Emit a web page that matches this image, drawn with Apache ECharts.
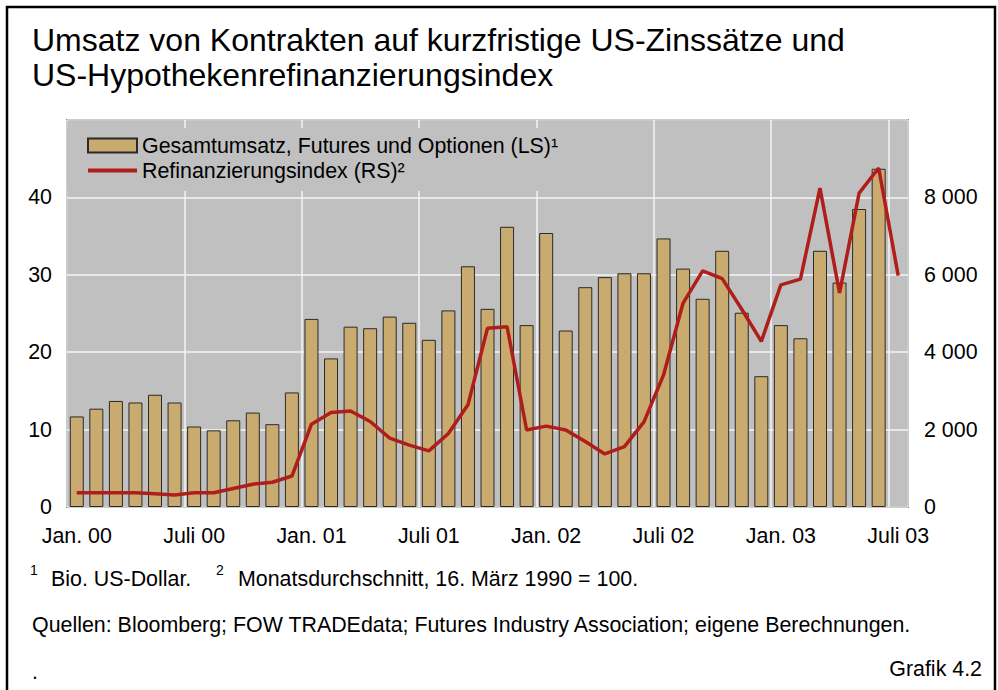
<!DOCTYPE html>
<html>
<head>
<meta charset="utf-8">
<script src="https://cdn.jsdelivr.net/npm/echarts@6/dist/echarts.min.js"></script>
<style>
  html, body { margin: 0; padding: 0; background: #ffffff; }
  #chart { width: 998px; height: 690px; }
</style>
</head>
<body>
<div id="chart"></div>
<script>
// Months Jan. 2000 .. Juli 2003
const categories = [
  'Jan. 00','Feb. 00','Mär. 00','Apr. 00','Mai 00','Juni 00','Juli 00','Aug. 00','Sep. 00','Okt. 00','Nov. 00','Dez. 00',
  'Jan. 01','Feb. 01','Mär. 01','Apr. 01','Mai 01','Juni 01','Juli 01','Aug. 01','Sep. 01','Okt. 01','Nov. 01','Dez. 01',
  'Jan. 02','Feb. 02','Mär. 02','Apr. 02','Mai 02','Juni 02','Juli 02','Aug. 02','Sep. 02','Okt. 02','Nov. 02','Dez. 02',
  'Jan. 03','Feb. 03','Mär. 03','Apr. 03','Mai 03','Juni 03','Juli 03'
];
// Gesamtumsatz, Futures und Optionen (Bio. US-Dollar), left scale
const turnover = [
  11.7, 12.7, 13.7, 13.5, 14.5, 13.5, 10.4, 9.9, 11.2, 12.2, 10.7, 14.8,
  24.3, 19.2, 23.3, 23.1, 24.6, 23.8, 21.6, 25.4, 31.1, 25.6, 36.2, 23.5,
  35.4, 22.8, 28.4, 29.7, 30.2, 30.2, 34.7, 30.8, 26.9, 33.1, 25.1, 16.9,
  23.5, 21.8, 33.1, 29.0, 38.5, 43.7, '-'
];
// Refinanzierungsindex (monthly average, 16 March 1990 = 100), right scale
const refiIndex = [
  370, 370, 370, 370, 340, 310, 370, 370, 480, 590, 640, 800,
  2140, 2440, 2480, 2210, 1780, 1600, 1450, 1900, 2640, 4620, 4660, 1990,
  2090, 1990, 1690, 1370, 1560, 2200, 3410, 5270, 6100, 5900, 5110, 4280,
  5740, 5890, 8240, 5530, 8110, 8760, 5980
];
const leftTicks = [0, 10, 20, 30, 40];
const rightTicks = [0, 2000, 4000, 6000, 8000];

const titleLines = [
  'Umsatz von Kontrakten auf kurzfristige US-Zinssätze und',
  'US-Hypothekenrefinanzierungsindex'
];
const seriesNames = ['Gesamtumsatz, Futures und Optionen (LS)¹', 'Refinanzierungsindex (RS)²'];

const FONT = '"Liberation Sans", Arial, Helvetica, sans-serif';
const FS = 21.4;
const chart = echarts.init(document.getElementById('chart'), null, { renderer: 'svg' });

function fmtThousands(v) {
  return String(v).replace(/\B(?=(\d{3})+(?!\d))/g, ' ');
}

const option = {
  backgroundColor: '#ffffff',
  animation: false,
  textStyle: { fontFamily: FONT },
  grid: {
    left: 67, right: 90, top: 120, bottom: 183,
    show: true, backgroundColor: '#c0c0c0', borderColor: '#222222', borderWidth: 1.5,
    containLabel: false
  },
  legend: {
    orient: 'vertical',
    left: 67, top: 128,
    padding: [7, 20, 10, 20],
    itemGap: 4,
    itemWidth: 49, itemHeight: 14,
    backgroundColor: '#c0c0c0',
    textStyle: { fontFamily: FONT, fontSize: FS, color: '#000', lineHeight: 21, padding: [0, 0, 0, 0] },
    data: [
      { name: seriesNames[0], icon: 'rect' },
      { name: seriesNames[1], icon: 'path://M0,0H49V4H0Z' }
    ],
    selectedMode: false
  },
  xAxis: {
    type: 'category',
    data: categories,
    boundaryGap: true,
    axisLine: { show: false },
    axisTick: { show: false, interval: 5 },
    axisLabel: {
      interval: 5, margin: 18, fontFamily: FONT, fontSize: FS, color: '#000'
    },
    splitLine: { show: true, interval: 5, lineStyle: { color: '#f4f4f4', width: 1.5 } }
  },
  yAxis: [
    {
      type: 'value', position: 'left', min: 0, max: 50, interval: 10,
      axisLine: { show: false }, axisTick: { show: false },
      axisLabel: {
        margin: 15, fontFamily: FONT, fontSize: FS, color: '#000',
        formatter: function (v) { return leftTicks.indexOf(v) >= 0 ? String(v) : ''; }
      },
      splitLine: { show: true, lineStyle: { color: '#f4f4f4', width: 1.5 } }
    },
    {
      type: 'value', position: 'right', min: 0, max: 10000, interval: 2000,
      axisLine: { show: false }, axisTick: { show: false },
      axisLabel: {
        margin: 16, fontFamily: FONT, fontSize: FS, color: '#000',
        formatter: function (v) { return rightTicks.indexOf(v) >= 0 ? fmtThousands(v) : ''; }
      },
      splitLine: { show: false }
    }
  ],
  series: [
    {
      name: seriesNames[0],
      type: 'bar',
      yAxisIndex: 0,
      data: turnover,
      barWidth: 14,
      itemStyle: { color: '#c9aa6f', borderColor: '#2a2a2a', borderWidth: 1 },
      z: 2
    },
    {
      name: seriesNames[1],
      type: 'line',
      yAxisIndex: 1,
      data: refiIndex,
      symbol: 'none',
      showSymbol: false,
      lineStyle: { color: '#b01e1c', width: 3.5 },
      itemStyle: { color: '#b01e1c' },
      z: 3
    }
  ],
  graphic: [
    {
      type: 'rect', silent: true, z: 100,
      shape: { x: 7, y: 7, width: 988, height: 720 },
      style: { fill: 'none', stroke: '#000', lineWidth: 2.5 }
    },
    {
      type: 'text', left: 32, top: 24,
      style: { text: titleLines[0], font: '32px ' + FONT, fill: '#000' }
    },
    {
      type: 'text', left: 32, top: 59,
      style: { text: titleLines[1], font: '32px ' + FONT, fill: '#000' }
    },
    {
      type: 'text', left: 30, top: 563,
      style: { text: '1', font: '14px ' + FONT, fill: '#000' }
    },
    {
      type: 'text', left: 51, top: 568,
      style: { text: 'Bio. US-Dollar.', font: FS + 'px ' + FONT, fill: '#000' }
    },
    {
      type: 'text', left: 216, top: 563,
      style: { text: '2', font: '14px ' + FONT, fill: '#000' }
    },
    {
      type: 'text', left: 238, top: 568,
      style: { text: 'Monatsdurchschnitt, 16. März 1990 = 100.', font: FS + 'px ' + FONT, fill: '#000' }
    },
    {
      type: 'text', left: 32, top: 614,
      style: { text: 'Quellen: Bloomberg; FOW TRADEdata; Futures Industry Association; eigene Berechnungen.', font: FS + 'px ' + FONT, fill: '#000' }
    },
    {
      type: 'text', left: 32, top: 661,
      style: { text: '.', font: FS + 'px ' + FONT, fill: '#000' }
    },
    {
      type: 'text', right: 16, top: 658,
      style: { text: 'Grafik 4.2', font: FS + 'px ' + FONT, fill: '#000' }
    }
  ]
};
chart.setOption(option);
</script>
</body>
</html>
